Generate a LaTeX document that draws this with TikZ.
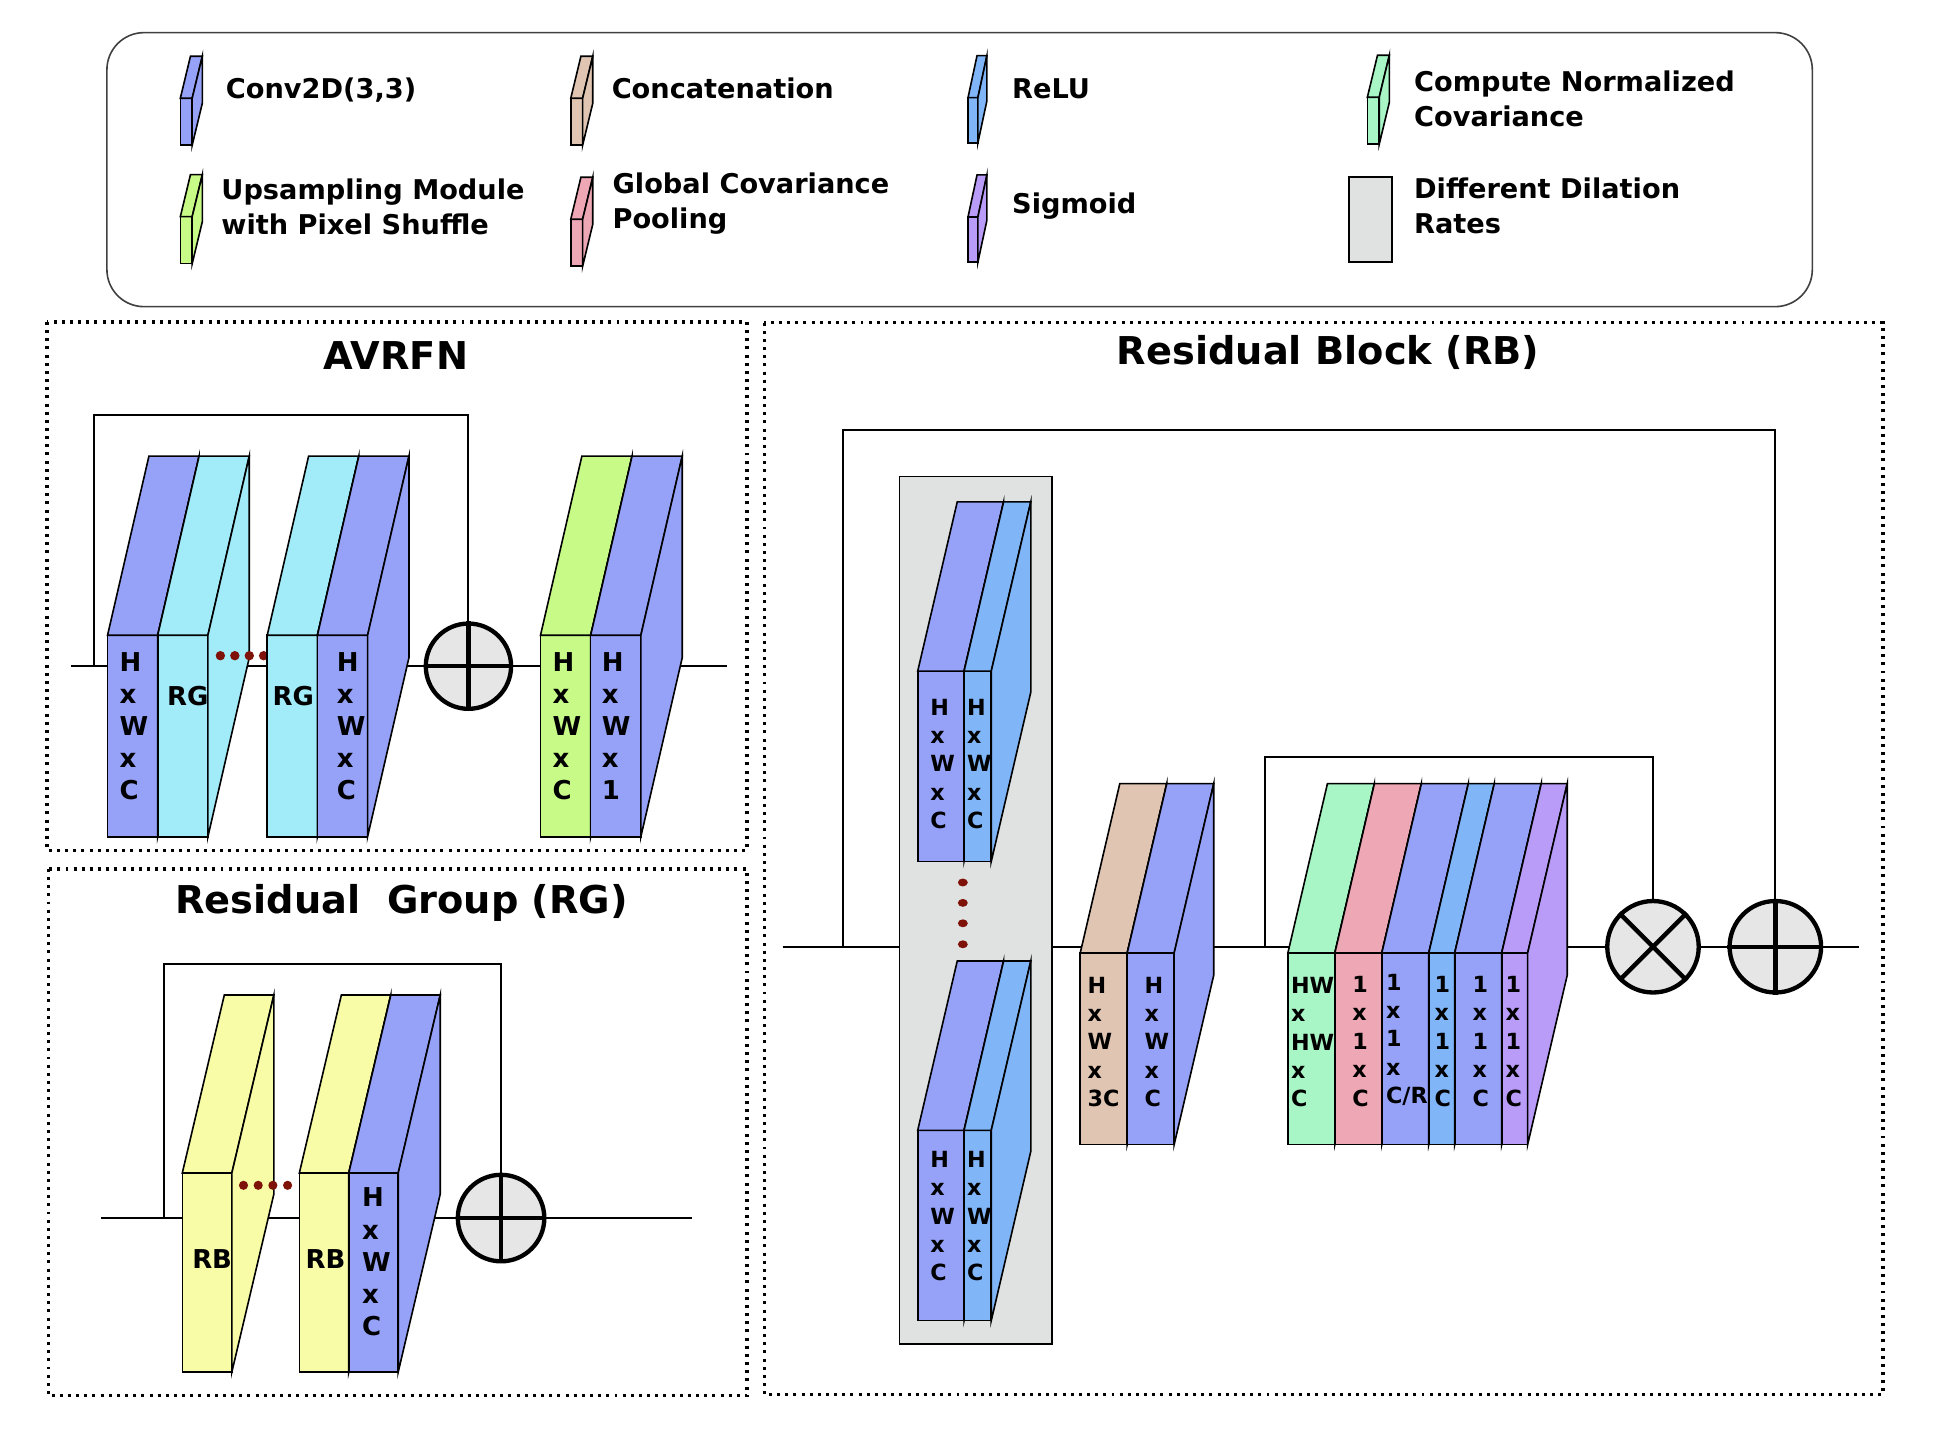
\documentclass[tikz,border=0pt]{standalone}
\usepackage{fontspec}
\setmainfont{DejaVu Sans}
\usepackage{tikz}
\usetikzlibrary{positioning}

\definecolor{convblue}{HTML}{96A1F8}
\definecolor{rgcyan}{HTML}{A2ECFA}
\definecolor{upgreen}{HTML}{C8FA88}
\definecolor{relublue}{HTML}{80B5F8}
\definecolor{concattan}{HTML}{E0C5B3}
\definecolor{gcppink}{HTML}{EEA7B4}
\definecolor{covmint}{HTML}{A8F5C5}
\definecolor{sigpurple}{HTML}{B99CF7}
\definecolor{rbyellow}{HTML}{F9FCA7}
\definecolor{dilgray}{HTML}{DFE2E1}
\definecolor{opgray}{HTML}{E6E6E6}
\definecolor{dotred}{HTML}{7F1208}

\tikzset{
    every node/.style={font=\bfseries, inner sep=0pt},
    panel/.style={line width=2.6pt, dash pattern=on 2.4pt off 4.2pt},
    wire/.style={line width=1.6pt},
    opnode/.style={circle, draw, line width=3.5pt, fill=opgray, minimum size=#1},
    opline/.style={line width=3.5pt},
    legtext/.style={anchor=base west, align=left, font=\bfseries\fontsize{22}{28.3}\selectfont},
    paneltitle/.style={anchor=base, font=\bfseries\fontsize{31}{37}\selectfont},
    bigdim/.style={anchor=base west, align=left, font=\bfseries\fontsize{21}{26}\selectfont},
    smalldim/.style={anchor=base west, align=left, font=\bfseries\fontsize{18}{23}\selectfont},
}

% front face at (#1,#2), size #3 x #4, depth (#5,#6), colour #7
\newcommand{\slab}[7]{%
    \filldraw[fill=#7] (#1,#2) rectangle ({#1+#3},{#2+#4});
    \filldraw[fill=#7] (#1,#2) -- ({#1+#5},{#2+#6}) -- ({#1+#3+#5},{#2+#6}) -- ({#1+#3},#2) -- cycle;
    \filldraw[fill=#7] ({#1+#3},#2) -- ({#1+#3+#5},{#2+#6}) -- ({#1+#3+#5},{#2+#4+#6}) -- ({#1+#3},{#2+#4}) -- cycle;
}

\begin{document}
\begin{tikzpicture}[x=1pt, y=-1pt, line width=1.3pt]
    \useasboundingbox (0,0) rectangle (1568,1170);

    % legend (multi-line text sits on its last baseline)
    \draw[rounded corners=30pt, draw=black!75] (86.5,26.4) rectangle (1466.3,248.1);
    \foreach \x/\y/\col in {145.9/79.5/convblue, 461.8/79.5/concattan, 1106.3/78.7/covmint, 145.9/175.3/upgreen, 461.8/177.4/gcppink}{
        \slab{\x}{\y}{9.6}{38}{8.2}{-34}{\col}
    }
    \foreach \y/\col in {79/relublue, 175.5/sigpurple}{
        \slab{783.2}{\y}{8}{36.5}{7.3}{-34}{\col}
    }
    \filldraw[fill=dilgray, line width=1.5pt] (1091.4,143) rectangle (1126.3,211.7);
    \node[legtext] (lconv) at (182.2,79.5) {Conv2D(3,3)};
    \node[legtext] (lcat) at (494.3,79.5) {Concatenation};
    \node[legtext] (lrelu) at (818.3,79.5) {ReLU};
    \node[legtext] (lcov) at (1143.5,102.5) {Compute Normalized\\Covariance};
    \node[legtext] (lup) at (178.5,190.1) {Upsampling Module\\with Pixel Shuffle};
    \node[legtext] (lgcp) at (495,184.7) {Global Covariance\\Pooling};
    \node[legtext] (lsig) at (818.3,172.6) {Sigmoid};
    \node[legtext] (ldil) at (1143.5,188.7) {Different Dilation\\Rates};

    % AVRFN
    \draw[panel] (38,260.5) rectangle (604.4,688);
    \node[paneltitle] (tavr) at (320.3,299.3) {AVRFN};
    \coordinate (ain) at (57.6,539);
    \coordinate (aout) at (588.4,539);
    \coordinate (askip) at (76.2,539);
    \coordinate (atop) at (379,335.5);
    \draw[wire] (ain) -- (aout);
    \node[opnode=69pt] (aplus) at (379,539) {};
    \draw[opline] (aplus.north) -- (aplus.south) (aplus.west) -- (aplus.east);
    \draw[wire] (askip) |- (atop) -- (aplus.north);
    \foreach \x/\col in {87/convblue, 127.6/rgcyan}{
        \slab{\x}{514}{40.6}{163}{33.5}{-145}{\col}
    }
    \foreach \x in {178.3,190,201.7,213.3}
        \fill[dotred] (\x,530.5) circle (3.8pt);
    \foreach \x/\col in {216.2/rgcyan, 256.8/convblue, 437.3/upgreen, 477.9/convblue}{
        \slab{\x}{514}{40.6}{163}{33.5}{-145}{\col}
    }
    \node[bigdim] (a1) at (96.2,647) {H\\x\\W\\x\\C};
    \node[bigdim] (a2) at (134.5,571) {RG};
    \node[bigdim] (a3) at (220,571) {RG};
    \node[bigdim] (a4) at (271.9,647) {H\\x\\W\\x\\C};
    \node[bigdim] (a5) at (446.5,647) {H\\x\\W\\x\\C};
    \node[bigdim] (a6) at (486.3,647) {H\\x\\W\\x\\1};

    % Residual Group
    \draw[panel] (39,703) rectangle (604.4,1129.2);
    \node[paneltitle] (trg) at (324.9,739) {Residual\ \ Group (RG)};
    \coordinate (gin) at (81.8,985.5);
    \coordinate (gout) at (560,985.5);
    \coordinate (gskip) at (132.6,985.5);
    \coordinate (gtop) at (405.4,780);
    \draw[wire] (gin) -- (gout);
    \node[opnode=70pt] (gplus) at (405.4,985.5) {};
    \draw[opline] (gplus.north) -- (gplus.south) (gplus.west) -- (gplus.east);
    \draw[wire] (gskip) |- (gtop) -- (gplus.north);
    \slab{147.5}{949}{40.1}{161}{34}{-144}{rbyellow}
    \foreach \x in {197,208.9,220.8,232.7}
        \fill[dotred] (\x,959) circle (3.7pt);
    \foreach \x/\col in {242.2/rbyellow, 282.2/convblue}{
        \slab{\x}{949}{40}{161}{34}{-144}{\col}
    }
    \node[bigdim] (g1) at (154.9,1026.6) {RB};
    \node[bigdim] (g2) at (246.7,1026.6) {RB};
    \node[bigdim] (g3) at (292.4,1080.5) {H\\x\\W\\x\\C};

    % Residual Block
    \draw[panel] (618.4,261) rectangle (1523.5,1128.5);
    \node[paneltitle] (trb) at (1074.5,295.3) {Residual Block (RB)};
    \coordinate (bin) at (633.1,766);
    \coordinate (bout) at (1504.4,766);
    \coordinate (bskip) at (682.2,766);
    \coordinate (btop) at (1436.4,347.9);
    \coordinate (cskip) at (1023.2,766);
    \coordinate (ctop) at (1337.4,612.6);
    \draw[wire] (bin) -- (bout);
    \node[opnode=74pt] (btimes) at (1337.4,766) {};
    \draw[opline] (btimes.north east) -- (btimes.south west) (btimes.north west) -- (btimes.south east);
    \node[opnode=74pt] (bplus) at (1436.4,766) {};
    \draw[opline] (bplus.north) -- (bplus.south) (bplus.west) -- (bplus.east);
    \draw[wire] (bskip) |- (btop) -- (bplus.north);
    \draw[wire] (cskip) |- (ctop) -- (btimes.north);

    \filldraw[fill=dilgray, line width=1.5pt] (727.8,385.5) rectangle (851.2,1087.3);
    \foreach \y in {543,914.5}{
        \slab{742.5}{\y}{37.5}{154}{32}{-137}{convblue}
        \slab{780}{\y}{22}{154}{32}{-137}{relublue}
    }
    \foreach \y in {714,730.5,747,764}
        \fill[dotred] (779,\y) ellipse [x radius=4pt, y radius=3.2pt];
    \foreach \x/\col in {874/concattan, 912/convblue}{
        \slab{\x}{771}{38}{155}{32}{-137}{\col}
    }
    \foreach \x/\w/\col in {1042/38/covmint, 1080/38/gcppink, 1118/38/convblue, 1156/21/relublue, 1177/38/convblue, 1215/21/sigpurple}{
        \slab{\x}{771}{\w}{155}{32}{-137}{\col}
    }

    \node[smalldim] (d1) at (752.1,670.6) {H\\x\\W\\x\\C};
    \node[smalldim] (d2) at (781.9,670.6) {H\\x\\W\\x\\C};
    \node[smalldim] (d3) at (752.1,1036.3) {H\\x\\W\\x\\C};
    \node[smalldim] (d4) at (781.9,1036.3) {H\\x\\W\\x\\C};
    \node[smalldim] (c1) at (879.3,895.5) {H\\x\\W\\x\\3C};
    \node[smalldim] (c2) at (925.5,895.5) {H\\x\\W\\x\\C};
    \node[smalldim] (e1) at (1043.9,895.6) {HW\\x\\HW\\x\\C};
    \node[smalldim] (e2) at (1093.5,895) {1\\x\\1\\x\\C};
    \node[smalldim] (e3) at (1120.8,893) {1\\x\\1\\x\\C/R};
    \node[smalldim] (e4) at (1160,895) {1\\x\\1\\x\\C};
    \node[smalldim] (e5) at (1190.8,895) {1\\x\\1\\x\\C};
    \node[smalldim] (e6) at (1217.6,895) {1\\x\\1\\x\\C};
\end{tikzpicture}
\end{document}
